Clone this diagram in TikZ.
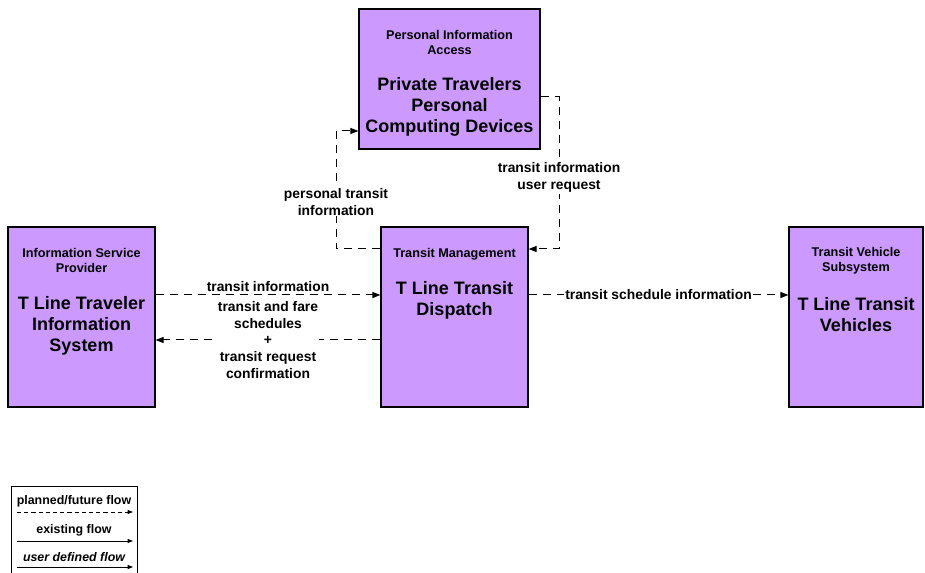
\documentclass[tikz,border=0pt]{standalone}
\usepackage{fontspec}
\setmainfont{Liberation Sans}
\usetikzlibrary{arrows.meta,positioning}
\definecolor{boxC}{RGB}{204,153,255}
\tikzset{
  sysbox/.style={draw=black,fill=boxC,line width=0.9pt,inner sep=0pt},
  subtitle/.style={align=center,font=\fontsize{9.5}{11.3}\selectfont\bfseries},
  bigtitle/.style={align=center,font=\fontsize{13.5}{15.8}\selectfont\bfseries},
  flow/.style={line width=0.75pt,dash pattern=on 6pt off 4.5pt,
    -{Triangle[length=6pt,width=4.5pt]}},
  flowlabel/.style={fill=white,inner sep=1pt,align=center,
    font=\fontsize{10.4}{12.4}\selectfont\bfseries},
  legendtext/.style={font=\fontsize{9.3}{11}\selectfont\bfseries}
}

\begin{document}
\begin{tikzpicture}[x=0.75pt,y=-0.75pt]
  \useasboundingbox (0,0) rectangle (925,573);

  % Subsystem boxes
  \node[sysbox,minimum width=135.75pt,minimum height=105pt] (pia) at (449.5,79) {};
  \node[sysbox,minimum width=110.25pt,minimum height=135pt] (isp) at (81.5,317) {};
  \node[sysbox,minimum width=110.25pt,minimum height=135pt] (tm) at (454.5,317) {};
  \node[sysbox,minimum width=100.5pt,minimum height=135pt] (tv) at (856,317) {};

  % Box titles
  \node[subtitle] (pia-t) at (449.5,42.5) {Personal Information\\Access};
  \node[bigtitle] (pia-n) at (449.5,107) {Private Travelers\\Personal\\Computing Devices};
  \node[subtitle] (isp-t) at (81.5,260.5) {Information Service\\Provider};
  \node[bigtitle] (isp-n) at (81.5,325.5) {T Line Traveler\\Information\\System};
  \node[subtitle] (tm-t) at (454.5,254) {Transit Management};
  \node[bigtitle] (tm-n) at (454.5,300.5) {T Line Transit\\Dispatch};
  \node[subtitle] (tv-t) at (856,260.5) {Transit Vehicle\\Subsystem};
  \node[bigtitle] (tv-n) at (856,314.5) {T Line Transit\\Vehicles};

  % Flows
  \draw[flow] (isp.east |- 0,295) -- node[flowlabel,yshift=6pt] (f1) {transit information}
    (tm.west |- 0,295);
  \draw[flow] (tm.west |- 0,340) -- node[flowlabel] (f2)
    {transit and fare\\schedules\\+\\transit request\\confirmation} (isp.east |- 0,340);
  \draw[flow] (tm.west |- 0,249) -- (336,249)
    -- node[flowlabel,pos=0.4] (f3) {personal transit\\information} (336,131)
    -- (pia.west |- 0,131);
  \draw[flow] (pia.east |- 0,97) -- (559,97)
    -- node[flowlabel,pos=0.53] (f4) {transit information\\user request} (559,249)
    -- (tm.east |- 0,249);
  \draw[flow] (tm.east |- 0,295) -- node[flowlabel] (f5) {transit schedule information}
    (tv.west |- 0,295);

  % Legend
  \draw[line width=0.75pt] (11,573) -- (11,487) -- (137,487) -- (137,573);
  \node[legendtext] (lg1) at (74,501) {planned/future flow};
  \coordinate (lg1a) at (17,512);
  \coordinate (lg1b) at (133,512);
  \draw[line width=0.7pt,dash pattern=on 3.2pt off 2.2pt,
    -{Triangle[length=4pt,width=3pt]}] (lg1a) -- (lg1b);
  \node[legendtext] (lg2) at (74,530) {existing flow};
  \coordinate (lg2a) at (17,541);
  \coordinate (lg2b) at (133,541);
  \draw[line width=0.7pt,-{Triangle[length=4pt,width=3pt]}] (lg2a) -- (lg2b);
  \node[legendtext,font=\fontsize{9.3}{11}\selectfont\bfseries\itshape] (lg3) at (74,557)
    {user defined flow};
  \coordinate (lg3a) at (17,567);
  \coordinate (lg3b) at (133,567);
  \draw[line width=0.7pt,-{Triangle[length=4pt,width=3pt]}] (lg3a) -- (lg3b);
\end{tikzpicture}
\end{document}
